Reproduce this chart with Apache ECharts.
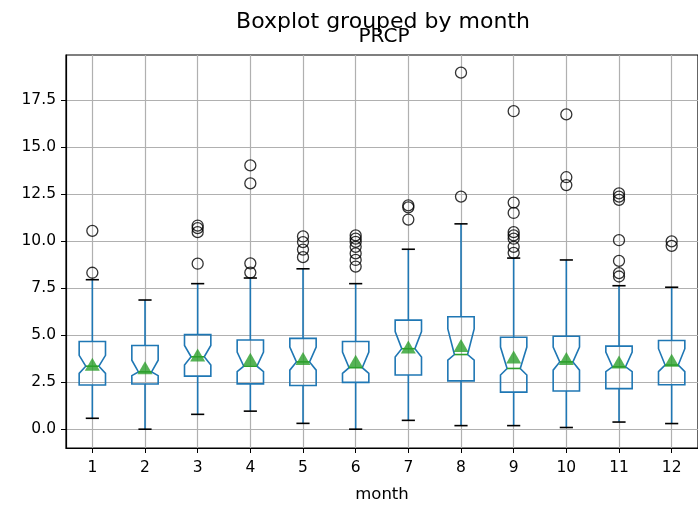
<!DOCTYPE html>
<html><head><meta charset="utf-8">
<script src="https://cdn.jsdelivr.net/npm/echarts@6/dist/echarts.min.js"></script>
<style>html,body{margin:0;padding:0;background:#fff}#c{width:698px;height:508px}</style>
</head><body><div id="c"></div>
<script>
// ---- data ----
const monthPositions = [1, 2, 3, 4, 5, 6, 7, 8, 9, 10, 11, 12];
const monthLabels = ['1', '2', '3', '4', '5', '6', '7', '8', '9', '10', '11', '12'];
const whiskerLow  = [0.58, 0.00, 0.79, 0.96, 0.31, 0.00, 0.47, 0.19, 0.19, 0.09, 0.38, 0.30];
const q1          = [2.35, 2.40, 2.82, 2.41, 2.32, 2.49, 2.88, 2.57, 1.97, 2.03, 2.16, 2.36];
const notchLow    = [2.97, 2.85, 3.41, 3.06, 3.14, 2.97, 3.84, 3.67, 2.88, 3.14, 3.06, 3.06];
const median      = [3.35, 3.05, 3.85, 3.35, 3.58, 3.27, 4.28, 3.97, 3.23, 3.58, 3.32, 3.41];
const notchHigh   = [3.93, 3.67, 4.45, 4.10, 4.37, 4.10, 5.19, 5.33, 4.37, 4.37, 4.10, 4.28];
const q3          = [4.66, 4.45, 5.03, 4.74, 4.83, 4.66, 5.80, 5.98, 4.89, 4.94, 4.42, 4.72];
const whiskerHigh = [7.95, 6.87, 7.74, 8.04, 8.53, 7.74, 9.57, 10.92, 9.10, 9.00, 7.63, 7.55];
const means       = [3.45, 3.27, 3.95, 3.72, 3.76, 3.62, 4.37, 4.45, 3.84, 3.76, 3.58, 3.67];
const outliers = [
  [10.55, 8.32],
  [],
  [10.83, 10.69, 10.48, 8.80],
  [14.03, 13.07, 8.82, 8.33],
  [10.25, 9.95, 9.55, 9.15],
  [10.31, 10.13, 9.96, 9.70, 9.35, 9.00, 8.65],
  [11.90, 11.80, 11.15],
  [18.96, 12.37],
  [16.91, 12.05, 11.50, 10.48, 10.31, 10.13, 9.70, 9.38],
  [16.74, 13.40, 12.98],
  [12.54, 12.37, 12.20, 10.05, 8.95, 8.30, 8.12],
  [9.99, 9.75]
];
const yTicks = [0, 2.5, 5, 7.5, 10, 12.5, 15, 17.5];
const suptitle = 'Boxplot grouped by month';
const axTitle = 'PRCP';
const xName = 'month';

// ---- build ----
const C0 = '#1f77b4', GREEN = '#2ca02c';
const FONT = 'DejaVu Sans';
const boxData = monthPositions.map((p, i) => [p, whiskerLow[i], q1[i], notchLow[i], median[i], notchHigh[i], q3[i], whiskerHigh[i]]);
const meanData = monthPositions.map((p, i) => [p, means[i]]);
const outData = [];
outliers.forEach((arr, i) => arr.forEach(v => outData.push([monthPositions[i], v])));

function renderBox(params, api) {
  const x = api.value(0);
  const wl = api.value(1), a = api.value(2), nl = api.value(3), md = api.value(4),
        nh = api.value(5), b = api.value(6), wh = api.value(7);
  const halfW = api.size([0.5, 0])[0] / 2;
  const inner = halfW / 2;
  const cx = api.coord([x, 0])[0];
  const y = v => api.coord([x, v])[1];
  const pts = [
    [cx - halfW, y(a)], [cx - halfW, y(nl)], [cx - inner, y(md)], [cx - halfW, y(nh)], [cx - halfW, y(b)],
    [cx + halfW, y(b)], [cx + halfW, y(nh)], [cx + inner, y(md)], [cx + halfW, y(nl)], [cx + halfW, y(a)]
  ];
  const lw = 1.6;
  return {
    type: 'group',
    children: [
      { type: 'line', shape: { x1: cx, y1: y(a), x2: cx, y2: y(wl) }, style: { stroke: C0, lineWidth: lw } },
      { type: 'line', shape: { x1: cx, y1: y(b), x2: cx, y2: y(wh) }, style: { stroke: C0, lineWidth: lw } },
      { type: 'line', shape: { x1: cx - inner, y1: y(wl), x2: cx + inner, y2: y(wl) }, style: { stroke: '#000', lineWidth: lw } },
      { type: 'line', shape: { x1: cx - inner, y1: y(wh), x2: cx + inner, y2: y(wh) }, style: { stroke: '#000', lineWidth: lw } },
      { type: 'polygon', shape: { points: pts }, style: { stroke: C0, fill: 'none', lineWidth: lw } },
      { type: 'line', shape: { x1: cx - inner, y1: y(md), x2: cx + inner, y2: y(md) }, style: { stroke: GREEN, lineWidth: lw } }
    ]
  };
}

const chart = echarts.init(document.getElementById('c'), null, { renderer: 'canvas' });
chart.setOption({
  animation: false,
  backgroundColor: '#fff',
  grid: { left: 66, top: 55, width: 637.4, height: 399, show: true, borderColor: '#000', borderWidth: 1.2, backgroundColor: 'transparent' },
  graphic: [
    { type: 'text', x: 383, y: 22, style: { text: suptitle, font: '22px "DejaVu Sans"', textAlign: 'center', textVerticalAlign: 'middle', fill: '#000' } },
    { type: 'text', x: 384, y: 37, style: { text: axTitle, font: '20px "DejaVu Sans"', textAlign: 'center', textVerticalAlign: 'middle', fill: '#000' } }
  ],
  xAxis: {
    type: 'value', min: 0.5, max: 12.5,
    name: xName, nameLocation: 'middle', nameGap: 38,
    nameTextStyle: { fontFamily: FONT, fontSize: 16.5, color: '#000' },
    axisLine: { show: true, onZero: false, lineStyle: { color: '#000', width: 1.2 } },
    axisTick: { show: true, length: 5, customValues: monthPositions, lineStyle: { color: '#000', width: 1 } },
    axisLabel: { customValues: monthPositions, margin: 12, fontFamily: FONT, fontSize: 15.5, color: '#000',
                 formatter: v => monthLabels[monthPositions.indexOf(v)] },
    splitLine: { show: true, lineStyle: { color: '#b0b0b0', width: 1.2 } }
  },
  yAxis: {
    type: 'value', min: -1.0, max: 19.9,
    axisLine: { show: true, onZero: false, lineStyle: { color: '#000', width: 1.2 } },
    axisTick: { show: true, length: 5, customValues: yTicks, lineStyle: { color: '#000', width: 1 } },
    axisLabel: { customValues: yTicks, margin: 10, fontFamily: FONT, fontSize: 15.5, color: '#000',
                 formatter: v => v.toFixed(1) },
    splitLine: { show: true, lineStyle: { color: '#b0b0b0', width: 1.2 } }
  },
  series: [
    { type: 'custom', renderItem: renderBox, data: boxData, encode: { x: 0, y: [1, 7] }, z: 3, clip: false },
    { type: 'scatter', data: outData, symbol: 'circle', symbolSize: 11, z: 4,
      itemStyle: { color: 'rgba(0,0,0,0)', borderColor: '#000', borderWidth: 1.3 } },
    { type: 'scatter', data: meanData, symbol: 'triangle', symbolSize: [15, 13], z: 5,
      itemStyle: { color: GREEN } }
  ]
});
</script></body></html>
